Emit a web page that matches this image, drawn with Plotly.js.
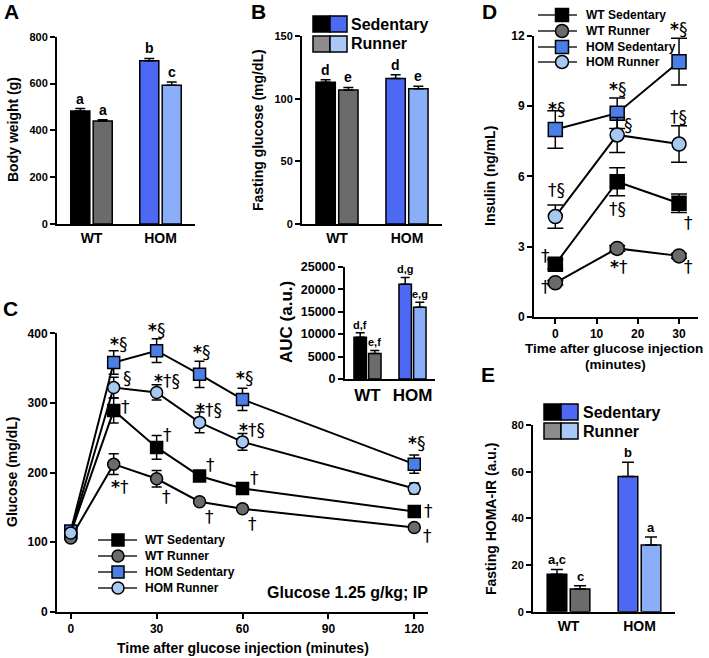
<!DOCTYPE html>
<html><head><meta charset="utf-8">
<script src="https://cdn.plot.ly/plotly-3.0.1.min.js"></script>
<style>html,body{margin:0;padding:0;background:#fff;} #chart{width:709px;height:658px;}</style>
</head><body><div id="chart"></div>
<script>
// ---------------- DATA ----------------
const groups = ['WT', 'HOM'];

// A: Body weight (g)
const bwSed = [483, 697];
const bwSedErr = [10, 10];
const bwSedLetters = ['a', 'b'];
const bwRun = [440, 593];
const bwRunErr = [5, 14];
const bwRunLetters = ['a', 'c'];

// B: Fasting glucose (mg/dL)
const fgSed = [113, 116];
const fgSedErr = [2, 3];
const fgSedLetters = ['d', 'd'];
const fgRun = [107, 108];
const fgRunErr = [2, 2];
const fgRunLetters = ['e', 'e'];

// C inset: AUC (a.u.)
const aucSed = [9300, 21100];
const aucSedErr = [1000, 1500];
const aucSedLetters = ['d,f', 'd,g'];
const aucRun = [5700, 16000];
const aucRunErr = [650, 1100];
const aucRunLetters = ['e,f', 'e,g'];

// E: Fasting HOMA-IR (a.u.)
const homaSed = [16.0, 57.9];
const homaSedErr = [2.1, 6.1];
const homaSedLetters = ['a,c', 'b'];
const homaRun = [9.7, 28.6];
const homaRunErr = [1.4, 3.4];
const homaRunLetters = ['c', 'a'];

// C: Glucose tolerance (mg/dL)
const gttTime = [0, 15, 30, 45, 60, 120];
const gttWTSed = [113, 289, 236, 195, 177, 144];
const gttWTSedErr = [5, 18, 17, 7, 6, 6];
const gttWTRun = [106, 212, 191, 158, 148, 121];
const gttWTRunErr = [4, 15, 12, 5, 5, 5];
const gttHOMSed = [116, 358, 375, 341, 305, 212];
const gttHOMSedErr = [5, 17, 17, 19, 16, 13];
const gttHOMRun = [113, 322, 315, 272, 244, 177];
const gttHOMRunErr = [5, 15, 11, 15, 12, 8];
const gttWTSedSig = ['', '†', '†', '†', '†', '†'];
const gttWTRunSig = ['', '*†', '†', '†', '†', '†'];
const gttHOMSedSig = ['', '*§', '*§', '*§', '*§', '*§'];
const gttHOMRunSig = ['', '§', '*†§', '*†§', '*†§', ''];

// D: Insulin (ng/mL)
const insTime = [0, 15, 30];
const insWTSed = [2.24, 5.77, 4.85];
const insWTSedErr = [0.2, 0.6, 0.4];
const insWTRun = [1.45, 2.92, 2.6];
const insWTRunErr = [0.1, 0.12, 0.1];
const insHOMSed = [8.0, 8.7, 10.9];
const insHOMSedErr = [0.8, 0.65, 1.0];
const insHOMRun = [4.28, 7.77, 7.38];
const insHOMRunErr = [0.5, 0.75, 0.78];
const insWTSedSig = ['†', '†§', '†'];
const insWTRunSig = ['†', '*†', '†'];
const insHOMSedSig = ['*§', '*§', '*§'];
const insHOMRunSig = ['†§', '§', '†§'];

const seriesNames = ['WT Sedentary', 'WT Runner', 'HOM Sedentary', 'HOM Runner'];

// ---------------- STYLE ----------------
const W = 709, H = 658;
const FONT = 'Liberation Sans, Arial, Helvetica, sans-serif';
const SIGFONT = 'DejaVu Sans, Liberation Sans, sans-serif';
const sedColors = ['#000000', '#4d68f2'];
const runColors = ['#6b6b6b', '#8aaff8'];
const legSedColors = ['#000000', '#4d68f2'];
const legRunColors = ['#8c8c8c', '#a9c8f7'];
const lineStyles = [
  {symbol: 'square', color: '#000000'},
  {symbol: 'circle', color: '#6b6b6b'},
  {symbol: 'square', color: '#4a7fe8'},
  {symbol: 'circle', color: '#a6c8f2'}
];
const BARGAP = 0.35, BARGROUPGAP = 0.15;

// panel geometry in pixels: x=[left,right], y=[top,bottom]
const geo = {
  A:   {x: [57, 195],  y: [36.7, 224]},
  B:   {x: [302, 442], y: [36, 224]},
  AUC: {x: [345, 435], y: [266.7, 379]},
  C:   {x: [57, 428],  y: [333.3, 611.7]},
  D:   {x: [534, 698], y: [36, 316.7]},
  E:   {x: [533, 675], y: [425, 611.7]}
};

// significance label offsets (px; dy>0 is up)
const offC = [
  [null, [12, 4], [11, 12], [11, 11], [12, 11], [14, 0]],
  [null, [6, -23], [10, -18], [10, -15], [10, -15], [13, -9]],
  [null, [5, 19], [0, 21], [2, 22], [2, 21], [2, 21]],
  [null, [14, 10], [10, 11], [9, 12], [9, 12], null]
];
const offD = [
  [[-10, 8], [0, -27], [9, -20]],
  [[-10, -4], [2, -19], [9, -11]],
  [[1, 21], [0, 24], [-1, 33]],
  [[1, 27], [11, 10], [-1, 27]]
];

// line-chart legends: line x-range, marker centre, text x, row centres, marker size
const legC = {x0: 98, x1: 137, mx: 118, tx: 143, rows: [540, 556, 572, 588], ms: 12};
const legD = {x0: 538, x1: 577, mx: 562, tx: 584, rows: [15, 31, 47, 62], ms: 13};

// ---------------- BUILD ----------------
const px = p => p / W;
const py = p => 1 - p / H;

function tf(size) { return {family: FONT, size: size, color: '#000', weight: 'bold'}; }

function xCat(g, anchor, size) {
  return {domain: [px(g.x[0]), px(g.x[1])], anchor: anchor, type: 'category',
    showline: true, linewidth: 2, linecolor: '#000', ticks: '', showgrid: false,
    zeroline: false, tickfont: tf(size), fixedrange: true};
}
function xLin(g, anchor, range, tickvals, size) {
  return {domain: [px(g.x[0]), px(g.x[1])], anchor: anchor, range: range,
    tickvals: tickvals, showline: true, linewidth: 2, linecolor: '#000',
    ticks: 'outside', ticklen: 5, tickwidth: 2, tickcolor: '#000',
    showgrid: false, zeroline: false, tickfont: tf(size), fixedrange: true};
}
function yLin(g, anchor, range, dtick, size) {
  return {domain: [py(g.y[1]), py(g.y[0])], anchor: anchor, range: range,
    tickmode: 'linear', tick0: 0, dtick: dtick, tickformat: 'd', showline: true, linewidth: 2,
    linecolor: '#000', ticks: 'outside', ticklen: 5, tickwidth: 2, tickcolor: '#000',
    showgrid: false, zeroline: false, tickfont: tf(size), fixedrange: true};
}

const traces = [];
const annotations = [];
const shapes = [];

function barPanel(xa, ya, g, sed, sedErr, sedL, run, runErr, runL, capW, letterSize) {
  const zeros = groups.map(() => 0);
  [[sed, sedErr, sedColors, 'Sedentary'], [run, runErr, runColors, 'Runner']].forEach(([v, e, c, n]) => {
    traces.push({type: 'bar', x: groups, y: v, name: n, xaxis: xa, yaxis: ya,
      showlegend: false, hoverinfo: 'skip',
      marker: {color: c, line: {color: '#000', width: 1.5}},
      error_y: {type: 'data', symmetric: false, array: e, arrayminus: zeros,
        color: '#000', thickness: 1.5, width: capW}});
  });
  const catW = (g.x[1] - g.x[0]) / groups.length;
  const off = catW * (1 - BARGAP) / 4;
  groups.forEach((gr, i) => {
    [[sed, sedErr, sedL, -off], [run, runErr, runL, off]].forEach(([v, e, L, s]) => {
      annotations.push({x: gr, y: v[i] + e[i], xref: xa, yref: ya, text: L[i],
        showarrow: false, xshift: s, yanchor: 'bottom', yshift: 0,
        font: {family: FONT, size: letterSize, color: '#000', weight: 'bold'}});
    });
  });
}

barPanel('x', 'y', geo.A, bwSed, bwSedErr, bwSedLetters, bwRun, bwRunErr, bwRunLetters, 5, 14);
barPanel('x2', 'y2', geo.B, fgSed, fgSedErr, fgSedLetters, fgRun, fgRunErr, fgRunLetters, 5, 14);
barPanel('x3', 'y3', geo.AUC, aucSed, aucSedErr, aucSedLetters, aucRun, aucRunErr, aucRunLetters, 4.5, 11);
barPanel('x6', 'y6', geo.E, homaSed, homaSedErr, homaSedLetters, homaRun, homaRunErr, homaRunLetters, 6, 13);

function sigText(s) { return s.replace('*', '<b>*</b>'); }

function linePanel(xa, ya, t, series, errs, sigs, offs, msize, capW, sigSize, leg) {
  series.forEach((v, k) => {
    traces.push({type: 'scatter', mode: 'lines+markers', x: t, y: v, name: seriesNames[k],
      xaxis: xa, yaxis: ya, showlegend: false, hoverinfo: 'skip',
      line: {color: '#000', width: 2},
      marker: {symbol: lineStyles[k].symbol, color: lineStyles[k].color, size: msize,
        line: {color: '#000', width: 1.5}},
      error_y: {type: 'data', array: errs[k], color: '#000', thickness: 1.5, width: capW}});
  });
  series.forEach((v, k) => {
    sigs[k].forEach((s, i) => {
      if (!s || !offs[k][i]) return;
      annotations.push({x: t[i], y: v[i], xref: xa, yref: ya, text: sigText(s), showarrow: false,
        xshift: offs[k][i][0], yshift: offs[k][i][1],
        font: {family: SIGFONT, size: sigSize, color: '#000'}});
    });
  });
  // legend (line + marker swatch + name)
  seriesNames.forEach((n, k) => {
    const yc = leg.rows[k], r = leg.ms / 2;
    shapes.push({type: 'line', xref: 'paper', yref: 'paper', x0: px(leg.x0), x1: px(leg.x1),
      y0: py(yc), y1: py(yc), line: {color: '#222', width: 1.5}});
    shapes.push({type: lineStyles[k].symbol === 'square' ? 'rect' : 'circle',
      xref: 'paper', yref: 'paper', x0: px(leg.mx - r), x1: px(leg.mx + r),
      y0: py(yc + r), y1: py(yc - r), fillcolor: lineStyles[k].color,
      line: {color: '#000', width: 1.5}});
    annotations.push({x: px(leg.tx), y: py(yc), xref: 'paper', yref: 'paper', text: n,
      showarrow: false, xanchor: 'left', yanchor: 'middle',
      font: {family: FONT, size: 12, color: '#000', weight: 'bold'}});
  });
}

linePanel('x4', 'y4', gttTime,
  [gttWTSed, gttWTRun, gttHOMSed, gttHOMRun],
  [gttWTSedErr, gttWTRunErr, gttHOMSedErr, gttHOMRunErr],
  [gttWTSedSig, gttWTRunSig, gttHOMSedSig, gttHOMRunSig], offC, 12, 5, 17, legC);
linePanel('x5', 'y5', insTime,
  [insWTSed, insWTRun, insHOMSed, insHOMRun],
  [insWTSedErr, insWTRunErr, insHOMSedErr, insHOMRunErr],
  [insWTSedSig, insWTRunSig, insHOMSedSig, insHOMRunSig], offD, 14, 8, 17, legD);

// bar legends (Sedentary / Runner two-colour swatches)
function barLegend(x0, rows, textX) {
  const labels = ['Sedentary', 'Runner'];
  const cols = [legSedColors, legRunColors];
  rows.forEach((r, j) => {
    [0, 1].forEach(c => {
      shapes.push({type: 'rect', xref: 'paper', yref: 'paper',
        x0: px(x0 + c * 17), x1: px(x0 + (c + 1) * 17), y0: py(r[1]), y1: py(r[0]),
        fillcolor: cols[j][c], line: {color: '#000', width: 1.5}});
    });
    annotations.push({x: px(textX), y: py((r[0] + r[1]) / 2), xref: 'paper', yref: 'paper',
      text: labels[j], showarrow: false, xanchor: 'left', yanchor: 'middle',
      font: {family: FONT, size: 16, color: '#000', weight: 'bold'}});
  });
}
barLegend(313, [[16, 32], [36, 52]], 349);
barLegend(544, [[404, 420], [423, 439]], 581);

// free text: panel letters, axis titles
function txt(x, y, text, size, opts) {
  annotations.push(Object.assign({x: px(x), y: py(y), xref: 'paper', yref: 'paper',
    text: text, showarrow: false, xanchor: 'center', yanchor: 'middle',
    font: {family: FONT, size: size, color: '#000', weight: 'bold'}}, opts || {}));
}
txt(11, 12, 'A', 21);
txt(258, 12, 'B', 21);
txt(10, 308, 'C', 21);
txt(489, 11, 'D', 21);
txt(488, 374, 'E', 21);

txt(13, 130, 'Body weight (g)', 14, {textangle: -90});
txt(258, 130, 'Fasting glucose (mg/dL)', 14, {textangle: -90});
txt(287, 322, 'AUC (a.u.)', 17, {textangle: -90});
txt(12, 472, 'Glucose (mg/dL)', 14, {textangle: -90});
txt(490, 176, 'Insulin (ng/mL)', 14, {textangle: -90});
txt(491, 519, 'Fasting HOMA-IR (a.u.)', 14, {textangle: -90});

txt(243, 648, 'Time after glucose injection (minutes)', 14);
txt(614, 348, 'Time after glucose injection', 13.5);
txt(615, 364, '(minutes)', 13.5);
txt(347, 592, 'Glucose 1.25 g/kg; IP', 16);

const layout = {
  width: W, height: H, autosize: false,
  margin: {l: 0, r: 0, t: 0, b: 0, pad: 0},
  paper_bgcolor: '#fff', plot_bgcolor: 'rgba(0,0,0,0)',
  font: {family: FONT, color: '#000'},
  showlegend: false,
  barmode: 'group', bargap: BARGAP, bargroupgap: BARGROUPGAP,
  xaxis: xCat(geo.A, 'y', 14),
  yaxis: yLin(geo.A, 'x', [0, 800], 200, 11),
  xaxis2: xCat(geo.B, 'y2', 14),
  yaxis2: yLin(geo.B, 'x2', [0, 150], 50, 11),
  xaxis3: xCat(geo.AUC, 'y3', 17),
  yaxis3: yLin(geo.AUC, 'x3', [0, 25000], 5000, 12.5),
  xaxis4: xLin(geo.C, 'y4', [-4.8, 124.8], [0, 30, 60, 90, 120], 12),
  yaxis4: yLin(geo.C, 'x4', [0, 400], 100, 12),
  xaxis5: xLin(geo.D, 'y5', [-5.17, 34.6], [0, 10, 20, 30], 12),
  yaxis5: yLin(geo.D, 'x5', [0, 12], 3, 12),
  xaxis6: xCat(geo.E, 'y6', 14),
  yaxis6: yLin(geo.E, 'x6', [0, 80], 20, 11),
  annotations: annotations,
  shapes: shapes
};

Plotly.newPlot('chart', traces, layout, {displayModeBar: false, staticPlot: true});
</script>
</body></html>
